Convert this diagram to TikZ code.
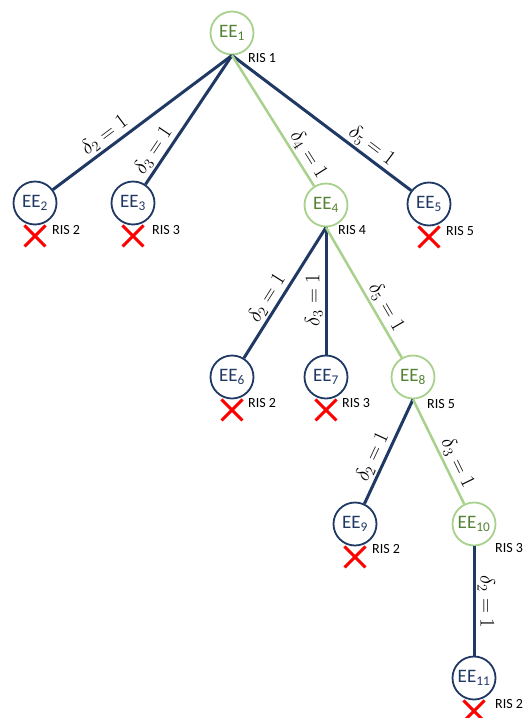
\documentclass[tikz,border=0pt]{standalone}
\usepackage{fontspec}
\setmainfont{Carlito}
\usetikzlibrary{positioning,shapes.misc}
\definecolor{eeblue}{HTML}{1F3864}
\definecolor{eegreen}{HTML}{A9D18E}
\definecolor{eetext}{HTML}{548235}

\begin{document}
\begin{tikzpicture}[x=1pt,y=-1pt,
	blue node/.style = {circle,draw=eeblue,line width=1.8pt,text=eeblue,fill=white,
		inner sep = 0pt, minimum size = 43pt, font=\fontsize{19}{22}\selectfont},
	green node/.style = {blue node,draw=eegreen,text=eetext},
	blue edge/.style = {draw=eeblue,line width=3pt},
	green edge/.style = {draw=eegreen,line width=2.5pt},
	delta/.style = {sloped,above,font=\huge,inner sep=2pt},
	delta up/.style = {rotate=90,anchor=south,font=\huge,inner sep=2pt},
	delta down/.style = {rotate=-90,anchor=south,font=\huge,inner sep=2pt},
	ris/.style = {anchor=west,font=\fontsize{14}{16}\selectfont,inner sep=0pt},
	nogo/.style = {cross out,draw=red,line width=3pt,minimum size=18pt,inner sep=0pt}]
	\useasboundingbox (0,0) rectangle (524,718);
	
	\node[green node] (ee1) at (232,33) {EE\textsubscript{1}};
	\node[blue node] (ee2) at (35,203) {EE\textsubscript{2}};
	\node[blue node] (ee3) at (133,203) {EE\textsubscript{3}};
	\node[green node] (ee4) at (326,205) {EE\textsubscript{4}};
	\node[blue node] (ee5) at (429,204) {EE\textsubscript{5}};
	
	\node[blue node] (ee6) at (232,377) {EE\textsubscript{6}};
	\node[blue node] (ee7) at (326,377) {EE\textsubscript{7}};
	\node[green node] (ee8) at (413,377) {EE\textsubscript{8}};
	\node[blue node] (ee9) at (355,524) {EE\textsubscript{9}};
	\node[green node] (ee10) at (474,524) {EE\textsubscript{10}};
	\node[blue node] (ee11) at (474,678) {EE\textsubscript{11}};
	
	% RIS labels
	\node[ris] (r1) at ([xshift=16pt,yshift=-25pt]ee1) {RIS 1};
	\node[ris] (r2) at ([xshift=17pt,yshift=-27pt]ee2) {RIS 2};
	\node[ris] (r3) at ([xshift=19pt,yshift=-27pt]ee3) {RIS 3};
	\node[ris] (r4) at ([xshift=12pt,yshift=-25pt]ee4) {RIS 4};
	\node[ris] (r5) at ([xshift=17pt,yshift=-27pt]ee5) {RIS 5};
	\node[ris] (r6) at ([xshift=16pt,yshift=-26pt]ee6) {RIS 2};
	\node[ris] (r7) at ([xshift=16pt,yshift=-26pt]ee7) {RIS 3};
	\node[ris] (r8) at ([xshift=14pt,yshift=-27pt]ee8) {RIS 5};
	\node[ris] (r9) at ([xshift=17pt,yshift=-25pt]ee9) {RIS 2};
	\node[ris] (r10) at ([xshift=21pt,yshift=-24pt]ee10) {RIS 3};
	\node[ris] (r11) at ([xshift=21pt,yshift=-26pt]ee11) {RIS 2};
	
	\path[blue edge]
	(ee1.south) edge node[delta,pos=.67] {$\delta_2 = 1$} (ee2)
	edge node[delta,pos=.79] {$\delta_3 = 1$} (ee3)
	edge node[delta,pos=.74] {$\delta_5 = 1$} (ee5)
	(ee4.south) edge node[delta,pos=.59] {$\delta_2 = 1$} (ee6)
	edge node[delta up,pos=.57] {$\delta_3 = 1$} (ee7)
	(ee8.south) edge node[delta,pos=.60] {$\delta_2 = 1$} (ee9)
	(ee10.south) edge node[delta down,pos=.51] {$\delta_2 = 1$} (ee11);
	
	\path[green edge]
	(ee1.south) edge node[delta,pos=.81] {$\delta_4 = 1$} (ee4)
	(ee4.south) edge node[delta,pos=.66] {$\delta_5 = 1$} (ee8)
	(ee8.south) edge node[delta,pos=.66] {$\delta_3 = 1$} (ee10);
	
	% pruned branches
	\node[nogo, below=0pt of ee2.south] (x2) {};
	\node[nogo, below=0pt of ee3.south] (x3) {};
	\node[nogo, below=0pt of ee5.south] (x5) {};
	\node[nogo, below=0pt of ee6.south] (x6) {};
	\node[nogo, below=0pt of ee7.south] (x7) {};
	\node[nogo, below=0pt of ee9.south] (x9) {};
	\node[nogo, below=0pt of ee11.south] (x11) {};
\end{tikzpicture}
\end{document}
